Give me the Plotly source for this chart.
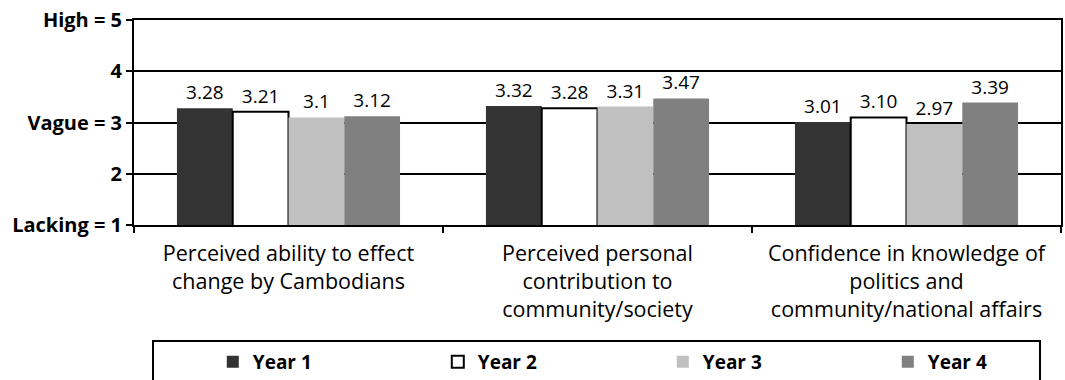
import plotly.graph_objects as go

# Survey ratings on a 1 (lacking) to 5 (high) scale, by student year
categories = [
    "Perceived ability to effect<br>change by Cambodians",
    "Perceived personal<br>contribution to<br>community/society",
    "Confidence in knowledge of<br>politics and<br>community/national affairs",
]
series_names = ["Year 1", "Year 2", "Year 3", "Year 4"]
year1_labels = ["3.28", "3.32", "3.01"]
year2_labels = ["3.21", "3.28", "3.10"]
year3_labels = ["3.1", "3.31", "2.97"]
year4_labels = ["3.12", "3.47", "3.39"]

tick_values = [1, 2, 3, 4, 5]
tick_labels = ["Lacking = 1", "2", "Vague = 3", "4", "High = 5"]

fills = ["#333333", "#ffffff", "#c0c0c0", "#808080"]
outlines = ["#333333", "#000000", "#c0c0c0", "#808080"]
outline_w = [0, 2, 0, 0]

font_family = "Open Sans"

fig = go.Figure()
for name, labels, fill, edge, ew in zip(
    series_names,
    [year1_labels, year2_labels, year3_labels, year4_labels],
    fills, outlines, outline_w,
):
    fig.add_trace(go.Bar(
        name=name,
        x=categories,
        y=[float(v) for v in labels],
        text=labels,
        textposition="outside",
        textfont=dict(family=font_family, size=19, color="#000000"),
        cliponaxis=False,
        marker=dict(color=fill, line=dict(color=edge, width=ew)),
    ))

fig.update_layout(
    width=1065,
    height=380,
    margin=dict(l=134, r=4, t=20, b=155, autoexpand=False),
    paper_bgcolor="#ffffff",
    plot_bgcolor="#ffffff",
    barmode="group",
    bargap=0.278,
    bargroupgap=0,
    font=dict(family=font_family, color="#000000"),
    showlegend=True,
    legend=dict(
        orientation="h",
        x=0.085, xanchor="left",
        y=-0.575, yanchor="top",
        entrywidth=180,
        font=dict(family=font_family, size=19, color="#000000", weight="bold"),
        bgcolor="rgba(0,0,0,0)",
        borderwidth=0,
        itemwidth=30,
        traceorder="normal",
    ),
    shapes=[
        dict(type="rect", xref="paper", yref="paper",
             x0=(153 - 134) / 927, x1=(1040 - 134) / 927,
             y0=(225 - 341) / 205, y1=(225 - 400) / 205,
             line=dict(color="#000000", width=2), fillcolor="rgba(0,0,0,0)",
             layer="above"),
    ],
)

fig.update_xaxes(
    showline=True, linecolor="#000000", linewidth=2, mirror=True,
    ticks="outside", tickson="boundaries", ticklen=6, tickcolor="#000000", tickwidth=1.5,
    tickfont=dict(family=font_family, size=21.5, color="#000000"),
    ticklabelstandoff=8,
    showgrid=False,
)
fig.update_yaxes(
    range=[1, 5],
    tickvals=tick_values,
    ticktext=tick_labels,
    tickfont=dict(family=font_family, size=20, color="#000000", weight="bold"),
    showline=True, linecolor="#000000", linewidth=2, mirror=True,
    ticks="outside", ticklen=6, tickcolor="#000000", tickwidth=1.5,
    showgrid=True, gridcolor="#000000", gridwidth=2,
    zeroline=False,
)

fig.write_html("out.html")
